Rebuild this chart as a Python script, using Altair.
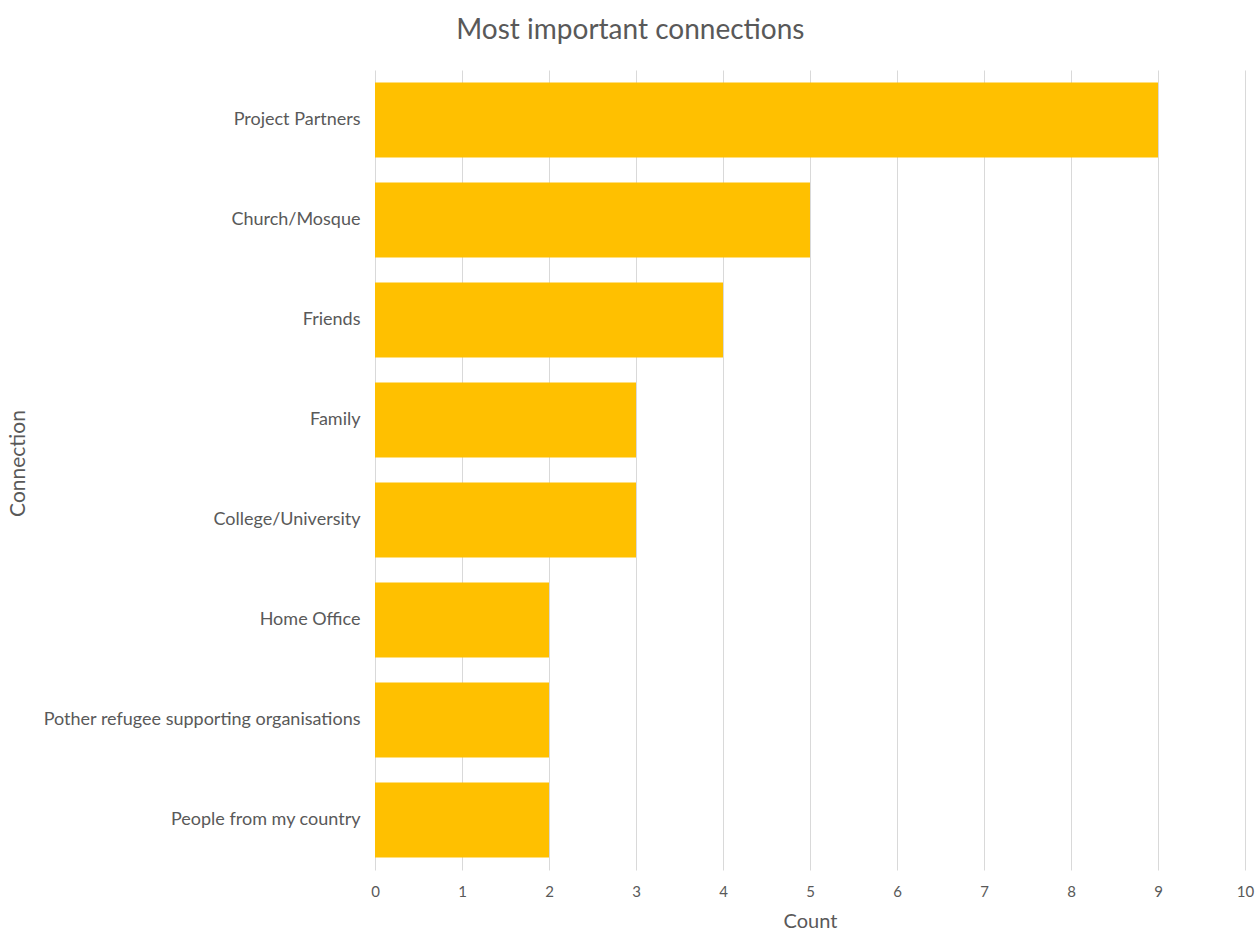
import altair as alt
import pandas as pd

categories = [
    "Project Partners",
    "Church/Mosque",
    "Friends",
    "Family",
    "College/University",
    "Home Office",
    "Pother refugee supporting organisations",
    "People from my country",
]
counts = [9, 5, 4, 3, 3, 2, 2, 2]

df = pd.DataFrame({"Connection": categories, "Count": counts})

FONT = "Lato"
GREY = "#595959"

chart = (
    alt.Chart(df)
    .mark_bar(color="#FFC000")
    .encode(
        x=alt.X(
            "Count:Q",
            scale=alt.Scale(domain=[0, 10], nice=False),
            axis=alt.Axis(
                values=list(range(11)),
                grid=True,
                gridColor="#d9d9d9",
                domain=False,
                ticks=False,
                labelFlush=False,
                labelPadding=14,
                labelFontSize=15,
                labelColor=GREY,
                labelFont=FONT,
                title="Count",
                titleFont=FONT,
                titleFontSize=20,
                titleFontWeight="normal",
                titleColor=GREY,
                titlePadding=12,
            ),
        ),
        y=alt.Y(
            "Connection:N",
            sort=categories,
            scale=alt.Scale(paddingInner=0.25, paddingOuter=0.125),
            axis=alt.Axis(
                grid=False,
                domain=False,
                ticks=False,
                labelPadding=15,
                labelFontSize=18,
                labelColor=GREY,
                labelFont=FONT,
                labelLimit=400,
                title="Connection",
                titleFont=FONT,
                titleFontSize=21,
                titleFontWeight="normal",
                titleColor=GREY,
                titleX=-347,
                titleY=393,
            ),
        ),
    )
    .properties(
        width=870,
        height=800,
        autosize=alt.AutoSizeParams(type="none"),
        padding={"left": 375, "top": 70, "right": 13, "bottom": 63},
        title=alt.TitleParams(
            "Most important connections",
            font=FONT,
            fontSize=28,
            fontWeight="normal",
            color=GREY,
            anchor="middle",
            frame="bounds",
            offset=25,
        ),
    )
    .configure_view(stroke=None)
)

chart.save("out.html", embed_options={"renderer": "svg", "actions": False})
